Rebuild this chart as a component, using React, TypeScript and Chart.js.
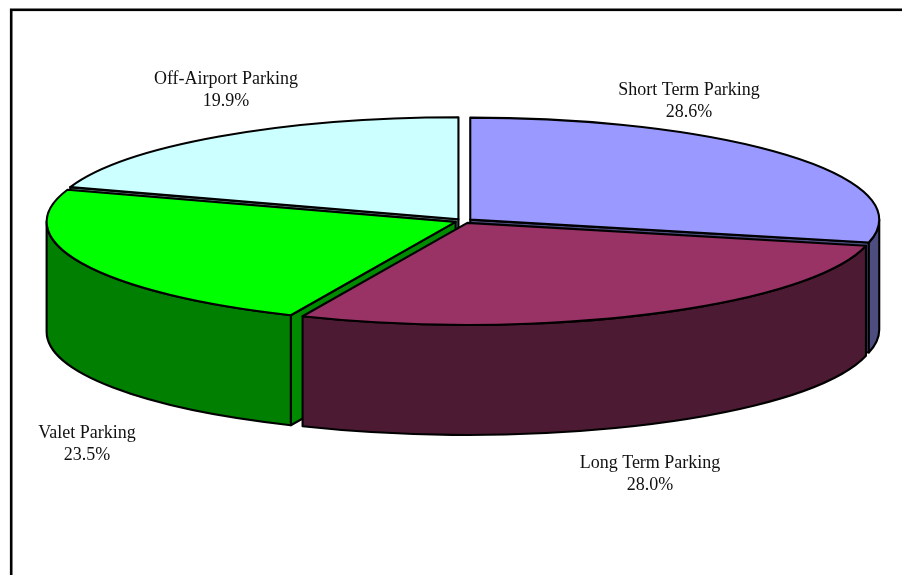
import React, { useEffect, useRef } from "react";
import { Chart, registerables } from "chart.js";

Chart.register(...registerables);

const categories = ["Short Term Parking", "Long Term Parking", "Valet Parking", "Off-Airport Parking"];
const shares = [28.6, 28.0, 23.5, 19.9];
const topColors = ["#9999FF", "#993366", "#00FF00", "#CCFFFF"];
const wallColors = ["#4D4D80", "#4D1A33", "#007F00", "#668080"];
const faceColors = ["#4D4D80", "#4D1A33", "#008A00", "#668080"];
const labelCentres = [
  [689, 90],
  [650, 463],
  [87, 433],
  [226, 79],
];

const VIEW = { cx: 463.5, cy: 221, rx: 409, ry: 102, depth: 110, lineHeight: 22 };

const pie3d = {
  id: "pie3d",
  beforeDatasetDraw(chart: any) {
    const { ctx } = chart;
    const meta = chart.getDatasetMeta(0);
    const { cx, cy, rx, ry, depth } = VIEW;
    const slices = meta.data.map((arc: any, i: number) => {
      const p = arc.getProps(["startAngle", "endAngle", "outerRadius"], true);
      const sx = rx / p.outerRadius;
      const sy = ry / p.outerRadius;
      const mid = (p.startAngle + p.endAngle) / 2;
      const off = arc.options.offset || 0;
      return {
        i,
        s: p.startAngle,
        e: p.endAngle,
        mid,
        ax: cx + Math.cos(mid) * off * sx,
        ay: cy + Math.sin(mid) * off * sy,
      };
    });
    slices.sort((a: any, b: any) => Math.sin(a.mid) - Math.sin(b.mid));

    ctx.save();
    ctx.lineWidth = 2.1;
    ctx.strokeStyle = "#000";
    ctx.lineJoin = "round";
    const paint = (fill: string) => {
      ctx.fillStyle = fill;
      ctx.fill();
      ctx.stroke();
    };
    for (const sl of slices) {
      const { ax, ay, s, e, i } = sl;
      const rimX = (t: number) => ax + Math.cos(t) * rx;
      const rimY = (t: number) => ay + Math.sin(t) * ry;
      const face = (t: number) => {
        ctx.beginPath();
        ctx.moveTo(ax, ay);
        ctx.lineTo(rimX(t), rimY(t));
        ctx.lineTo(rimX(t), rimY(t) + depth);
        ctx.lineTo(ax, ay + depth);
        ctx.closePath();
        paint(faceColors[i]);
      };
      if (-Math.cos(s) > 0) face(s);
      if (Math.cos(e) > 0) face(e);

      const w0 = Math.max(s, 0);
      const w1 = Math.min(e, Math.PI);
      if (w1 > w0) {
        ctx.beginPath();
        ctx.ellipse(ax, ay, rx, ry, 0, w0, w1);
        ctx.ellipse(ax, ay + depth, rx, ry, 0, w1, w0, true);
        ctx.closePath();
        paint(wallColors[i]);
      }

      ctx.beginPath();
      ctx.moveTo(ax, ay);
      ctx.ellipse(ax, ay, rx, ry, 0, s, e);
      ctx.closePath();
      paint(topColors[i]);
    }
    ctx.restore();
    return false;
  },
  afterDraw(chart: any) {
    const { ctx, width, height } = chart;
    ctx.save();
    ctx.strokeStyle = "#000";
    ctx.lineWidth = 2.6;
    ctx.strokeRect(11.2, 9.8, width + 40, height + 40);
    ctx.font = '18px "Liberation Serif"';
    ctx.fillStyle = "#111";
    ctx.textAlign = "center";
    ctx.textBaseline = "middle";
    categories.forEach((name, i) => {
      const [x, y] = labelCentres[i];
      const total = shares.reduce((a, b) => a + b, 0);
      ctx.fillText(name, x, y);
      ctx.fillText(((shares[i] / total) * 100).toFixed(1) + "%", x, y + VIEW.lineHeight);
    });
    ctx.restore();
  },
};

export default function App() {
  const ref = useRef<HTMLCanvasElement>(null);
  useEffect(() => {
    const chart = new Chart(ref.current!, {
      type: "pie",
      data: {
        labels: categories,
        datasets: [{ data: shares, backgroundColor: topColors, offset: 6, borderWidth: 0 }],
      },
      options: {
        animation: false,
        responsive: false,
        plugins: { legend: { display: false }, tooltip: { enabled: false } },
      },
      plugins: [pie3d],
    } as any);
    return () => chart.destroy();
  }, []);
  return (
    <canvas
      ref={ref}
      width={902}
      height={575}
      style={{ position: "absolute", left: 0, top: 0, background: "#fff" }}
    />
  );
}
